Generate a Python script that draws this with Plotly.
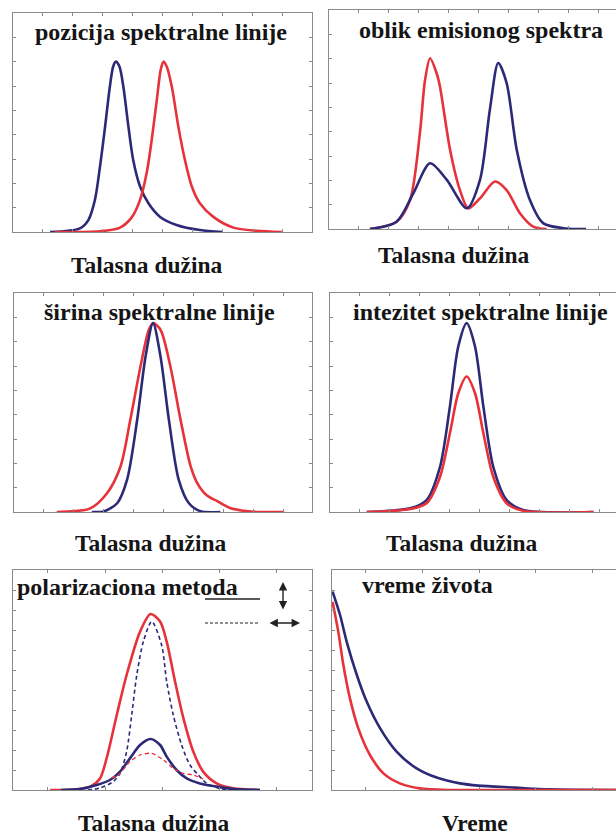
import plotly.graph_objects as go
from plotly.subplots import make_subplots

W, H = 616, 836
RED = '#e6323a'
BLUE = '#2c2a76'

# panel 1 - pozicija spektralne linije
p1_blue_x = [1.24, 2.24, 2.52, 2.74, 2.91, 3.08, 3.24, 3.35, 3.44, 3.56, 3.69, 3.86, 4.02, 4.25, 4.53, 4.92, 5.47, 6.25, 7.0]
p1_blue_y = [0, 0.15, 0.49, 1.32, 2.69, 4.33, 5.98, 6.8, 7.0, 6.8, 5.98, 4.33, 2.96, 1.87, 1.18, 0.62, 0.29, 0.08, 0]
p1_red_x = [1.4, 2.91, 3.58, 3.97, 4.25, 4.47, 4.64, 4.81, 4.94, 5.03, 5.14, 5.31, 5.53, 5.75, 5.98, 6.25, 6.7, 7.37, 8.15, 8.99]
p1_red_y = [0, 0.03, 0.18, 0.6, 1.32, 2.42, 3.79, 5.43, 6.67, 7.0, 6.8, 5.98, 4.33, 2.96, 1.87, 1.18, 0.62, 0.18, 0.05, 0]

# panel 2 - oblik emisionog spektra
p2_red_x = [1.37, 2.26, 2.71, 3.04, 3.21, 3.38, 3.6, 3.71, 4.05, 4.38, 4.66, 5.05, 5.55, 5.94, 6.39, 6.83, 7.28]
p2_red_y = [0, 0.3, 1.19, 3.94, 6.1, 7.02, 6.4, 5.86, 3.25, 1.6, 0.85, 1.26, 1.95, 1.6, 0.64, 0.1, 0]
p2_blue_x = [1.37, 2.26, 2.82, 3.38, 3.94, 4.61, 5.05, 5.38, 5.66, 5.94, 6.28, 6.72, 7.17, 7.95, 8.6]
p2_blue_y = [0, 0.3, 1.47, 2.7, 2.02, 0.85, 2.02, 4.9, 6.82, 6.0, 3.25, 1.19, 0.23, 0.02, 0]

# panel 3 - sirina spektralne linije
p3_red_x = [1.43, 2.55, 3.11, 3.56, 3.89, 4.23, 4.51, 4.65, 4.9, 5.23, 5.57, 5.91, 6.1, 6.35, 6.55, 6.8, 7.0, 7.25, 7.92, 9.04]
p3_red_y = [0, 0.15, 0.77, 1.86, 3.79, 5.98, 7.49, 7.76, 7.49, 5.98, 3.79, 1.86, 1.25, 0.8, 0.6, 0.45, 0.3, 0.15, 0.02, 0]
p3_blue_x = [2.6, 3.0, 3.45, 3.78, 4.12, 4.4, 4.65, 4.9, 5.18, 5.51, 5.85, 6.24, 6.9]
p3_blue_y = [0, 0.02, 0.36, 1.32, 3.79, 6.39, 7.76, 6.39, 3.79, 1.32, 0.36, 0.03, 0]

# panel 4 - intezitet spektralne linije
p4_x = [1.23, 2.68, 3.23, 3.68, 4.01, 4.29, 4.57, 4.85, 5.13, 5.46, 5.91, 6.46, 8.81]
p4_blue_y = [0, 0.15, 0.49, 1.86, 4.33, 6.8, 7.76, 6.8, 4.33, 1.86, 0.49, 0.08, 0]
p4_red_y = [0, 0.12, 0.36, 1.45, 3.24, 4.88, 5.57, 4.88, 3.24, 1.45, 0.36, 0.05, 0]

# panel 5 - polarizaciona metoda
p5_red_x = [1.24, 2.02, 2.58, 2.91, 3.13, 3.47, 3.8, 4.25, 4.6, 4.92, 5.14, 5.42, 5.7, 6.03, 6.36, 6.81, 7.37, 8.26]
p5_red_y = [0, 0.02, 0.17, 0.58, 1.58, 3.75, 5.75, 7.92, 8.8, 8.42, 7.42, 5.42, 3.58, 1.92, 0.92, 0.33, 0.08, 0]
p5_bdash_x = [2.5, 2.91, 3.35, 3.58, 3.8, 3.97, 4.14, 4.36, 4.64, 4.97, 5.14, 5.36, 5.64, 5.92, 6.2, 6.48, 6.9, 7.7]
p5_bdash_y = [0, 0.1, 0.42, 0.83, 1.92, 3.75, 5.75, 7.42, 8.42, 7.25, 5.42, 3.75, 2.25, 1.25, 0.75, 0.33, 0.08, 0]
p5_blue_x = [1.6, 2.24, 2.8, 3.24, 3.58, 3.91, 4.25, 4.6, 4.92, 5.14, 5.47, 5.81, 6.25, 6.81, 7.37, 8.26]
p5_blue_y = [0, 0.05, 0.25, 0.5, 0.92, 1.58, 2.25, 2.55, 2.25, 1.67, 1.0, 0.58, 0.33, 0.17, 0.05, 0]
p5_rdash_x = [3.3, 3.58, 3.91, 4.25, 4.64, 5.03, 5.36, 5.7, 6.03, 6.36]
p5_rdash_y = [0.6, 0.83, 1.42, 1.75, 1.83, 1.5, 1.08, 0.83, 0.75, 0.55]

# panel 6 - vreme zivota
p6_blue_x = [0.02, 0.27, 0.49, 0.83, 1.16, 1.61, 2.16, 2.83, 3.5, 4.28, 4.89, 6.12, 7.23, 9.5]
p6_blue_y = [9.92, 8.75, 7.42, 5.75, 4.42, 3.08, 1.92, 1.08, 0.62, 0.33, 0.22, 0.12, 0.03, 0]
p6_red_x = [0.02, 0.21, 0.38, 0.6, 0.88, 1.27, 1.72, 2.27, 2.94, 3.84, 5.79, 9.5]
p6_red_y = [9.4, 7.92, 6.25, 4.58, 3.08, 1.75, 0.83, 0.33, 0.08, 0.0, 0, 0]

titles = ['pozicija spektralne linije', 'oblik emisionog spektra',
          'širina spektralne linije', 'intezitet spektralne linije',
          'polarizaciona metoda', 'vreme života']
xlabels = ['Talasna dužina'] * 5 + ['Vreme']

fig = make_subplots(rows=3, cols=2)


def line(x, y, color, r, c, width=2.6, dash='solid'):
    fig.add_trace(go.Scatter(x=x, y=y, mode='lines',
                             line=dict(color=color, width=width, dash=dash, shape='spline', smoothing=0.8),
                             showlegend=False, hoverinfo='skip'), row=r, col=c)


line(p1_blue_x, p1_blue_y, BLUE, 1, 1)
line(p1_red_x, p1_red_y, RED, 1, 1)
line(p2_red_x, p2_red_y, RED, 1, 2)
line(p2_blue_x, p2_blue_y, BLUE, 1, 2)
line(p3_red_x, p3_red_y, RED, 2, 1)
line(p3_blue_x, p3_blue_y, BLUE, 2, 1)
line(p4_x, p4_blue_y, BLUE, 2, 2)
line(p4_x, p4_red_y, RED, 2, 2)
line(p5_red_x, p5_red_y, RED, 3, 1)
line(p5_blue_x, p5_blue_y, BLUE, 3, 1)
line(p5_bdash_x, p5_bdash_y, BLUE, 3, 1, width=1.6, dash='4px,3px')
line(p5_rdash_x, p5_rdash_y, RED, 3, 1, width=1.3, dash='4px,3px')
line(p6_blue_x, p6_blue_y, BLUE, 3, 2)
line(p6_red_x, p6_red_y, RED, 3, 2)

# panel boxes in pixels: left, top, bottom ; right is 312 or the page edge
boxes = [(13, 13, 232), (329, 10, 229), (14, 293, 512), (330, 293, 512), (13, 570, 790), (332, 570, 790)]
yranges = [9, 9, 9, 9, 11, 11]
xticks = [list(range(1, 10))] * 4 + [[1.17, 3.08, 4.99, 6.9, 8.81], [1.13, 3.02, 4.92, 6.82, 8.72]]

ax_style = dict(showgrid=False, zeroline=False, showticklabels=False, showline=True,
                linecolor='#8a8a8a', linewidth=1, ticks='inside', ticklen=3,
                tickcolor='#8a8a8a', tickwidth=1)

for i, (l, t, b) in enumerate(boxes):
    right_col = i % 2 == 1
    r = W if right_col else 312
    xr = (r - l) / 29.9
    n = str(i + 1) if i else ''
    fig.layout['xaxis' + n].update(domain=[l / W, r / W], range=[0, xr],
                                   tickvals=xticks[i], mirror='ticks', **ax_style)
    fig.layout['yaxis' + n].update(domain=[1 - b / H, 1 - t / H], range=[0, yranges[i]],
                                   tickvals=list(range(1, yranges[i])),
                                   mirror=False if right_col else 'ticks', **ax_style)

title_font = dict(family='Liberation Serif', size=24, color='#151515')
label_font = dict(family='Liberation Serif', size=23.5, color='#151515')
title_pos = [(161, 32, 'center'), (481, 30, 'center'), (159, 312, 'center'),
             (480, 312, 'center'), (15, 587, 'left'), (360, 585, 'left')]
label_pos = [(147, 265), (454, 255), (151, 543), (462, 543), (154, 823), (475, 823)]

for i in range(6):
    x, y, a = title_pos[i]
    fig.add_annotation(x=x / W, y=1 - y / H, xref='paper', yref='paper', text='<b>' + titles[i] + '</b>',
                       showarrow=False, xanchor=a, yanchor='middle', font=title_font)
    x, y = label_pos[i]
    fig.add_annotation(x=x / W, y=1 - y / H, xref='paper', yref='paper', text='<b>' + xlabels[i] + '</b>',
                       showarrow=False, xanchor='center', yanchor='middle', font=label_font)

# polarisation key
fig.add_shape(type='line', xref='paper', yref='paper', x0=205 / W, x1=260 / W,
              y0=1 - 599 / H, y1=1 - 599 / H, line=dict(color='#222', width=1.3))
fig.add_shape(type='line', xref='paper', yref='paper', x0=205 / W, x1=260 / W,
              y0=1 - 623 / H, y1=1 - 623 / H, line=dict(color='#222', width=1.2, dash='3px,2px'))
fig.add_annotation(x=283 / W, y=1 - 582 / H, xref='paper', yref='paper', ax=0, ay=29, text='',
                   showarrow=True, arrowside='end+start', arrowhead=2, arrowsize=1.2,
                   arrowwidth=1.4, arrowcolor='#222', standoff=0, startstandoff=0)
fig.add_annotation(x=300 / W, y=1 - 623 / H, xref='paper', yref='paper', ax=-32, ay=0, text='',
                   showarrow=True, arrowside='end+start', arrowhead=2, arrowsize=1.2,
                   arrowwidth=1.4, arrowcolor='#222', standoff=0, startstandoff=0)

fig.update_layout(width=W, height=H, margin=dict(l=0, r=0, t=0, b=0),
                  paper_bgcolor='white', plot_bgcolor='white', showlegend=False)

# page body has a default 8px margin; drop it so the figure sits at the window corner
fig.write_html('out.html', config={'displayModeBar': False},
               post_script="document.body.style.margin='0';")
